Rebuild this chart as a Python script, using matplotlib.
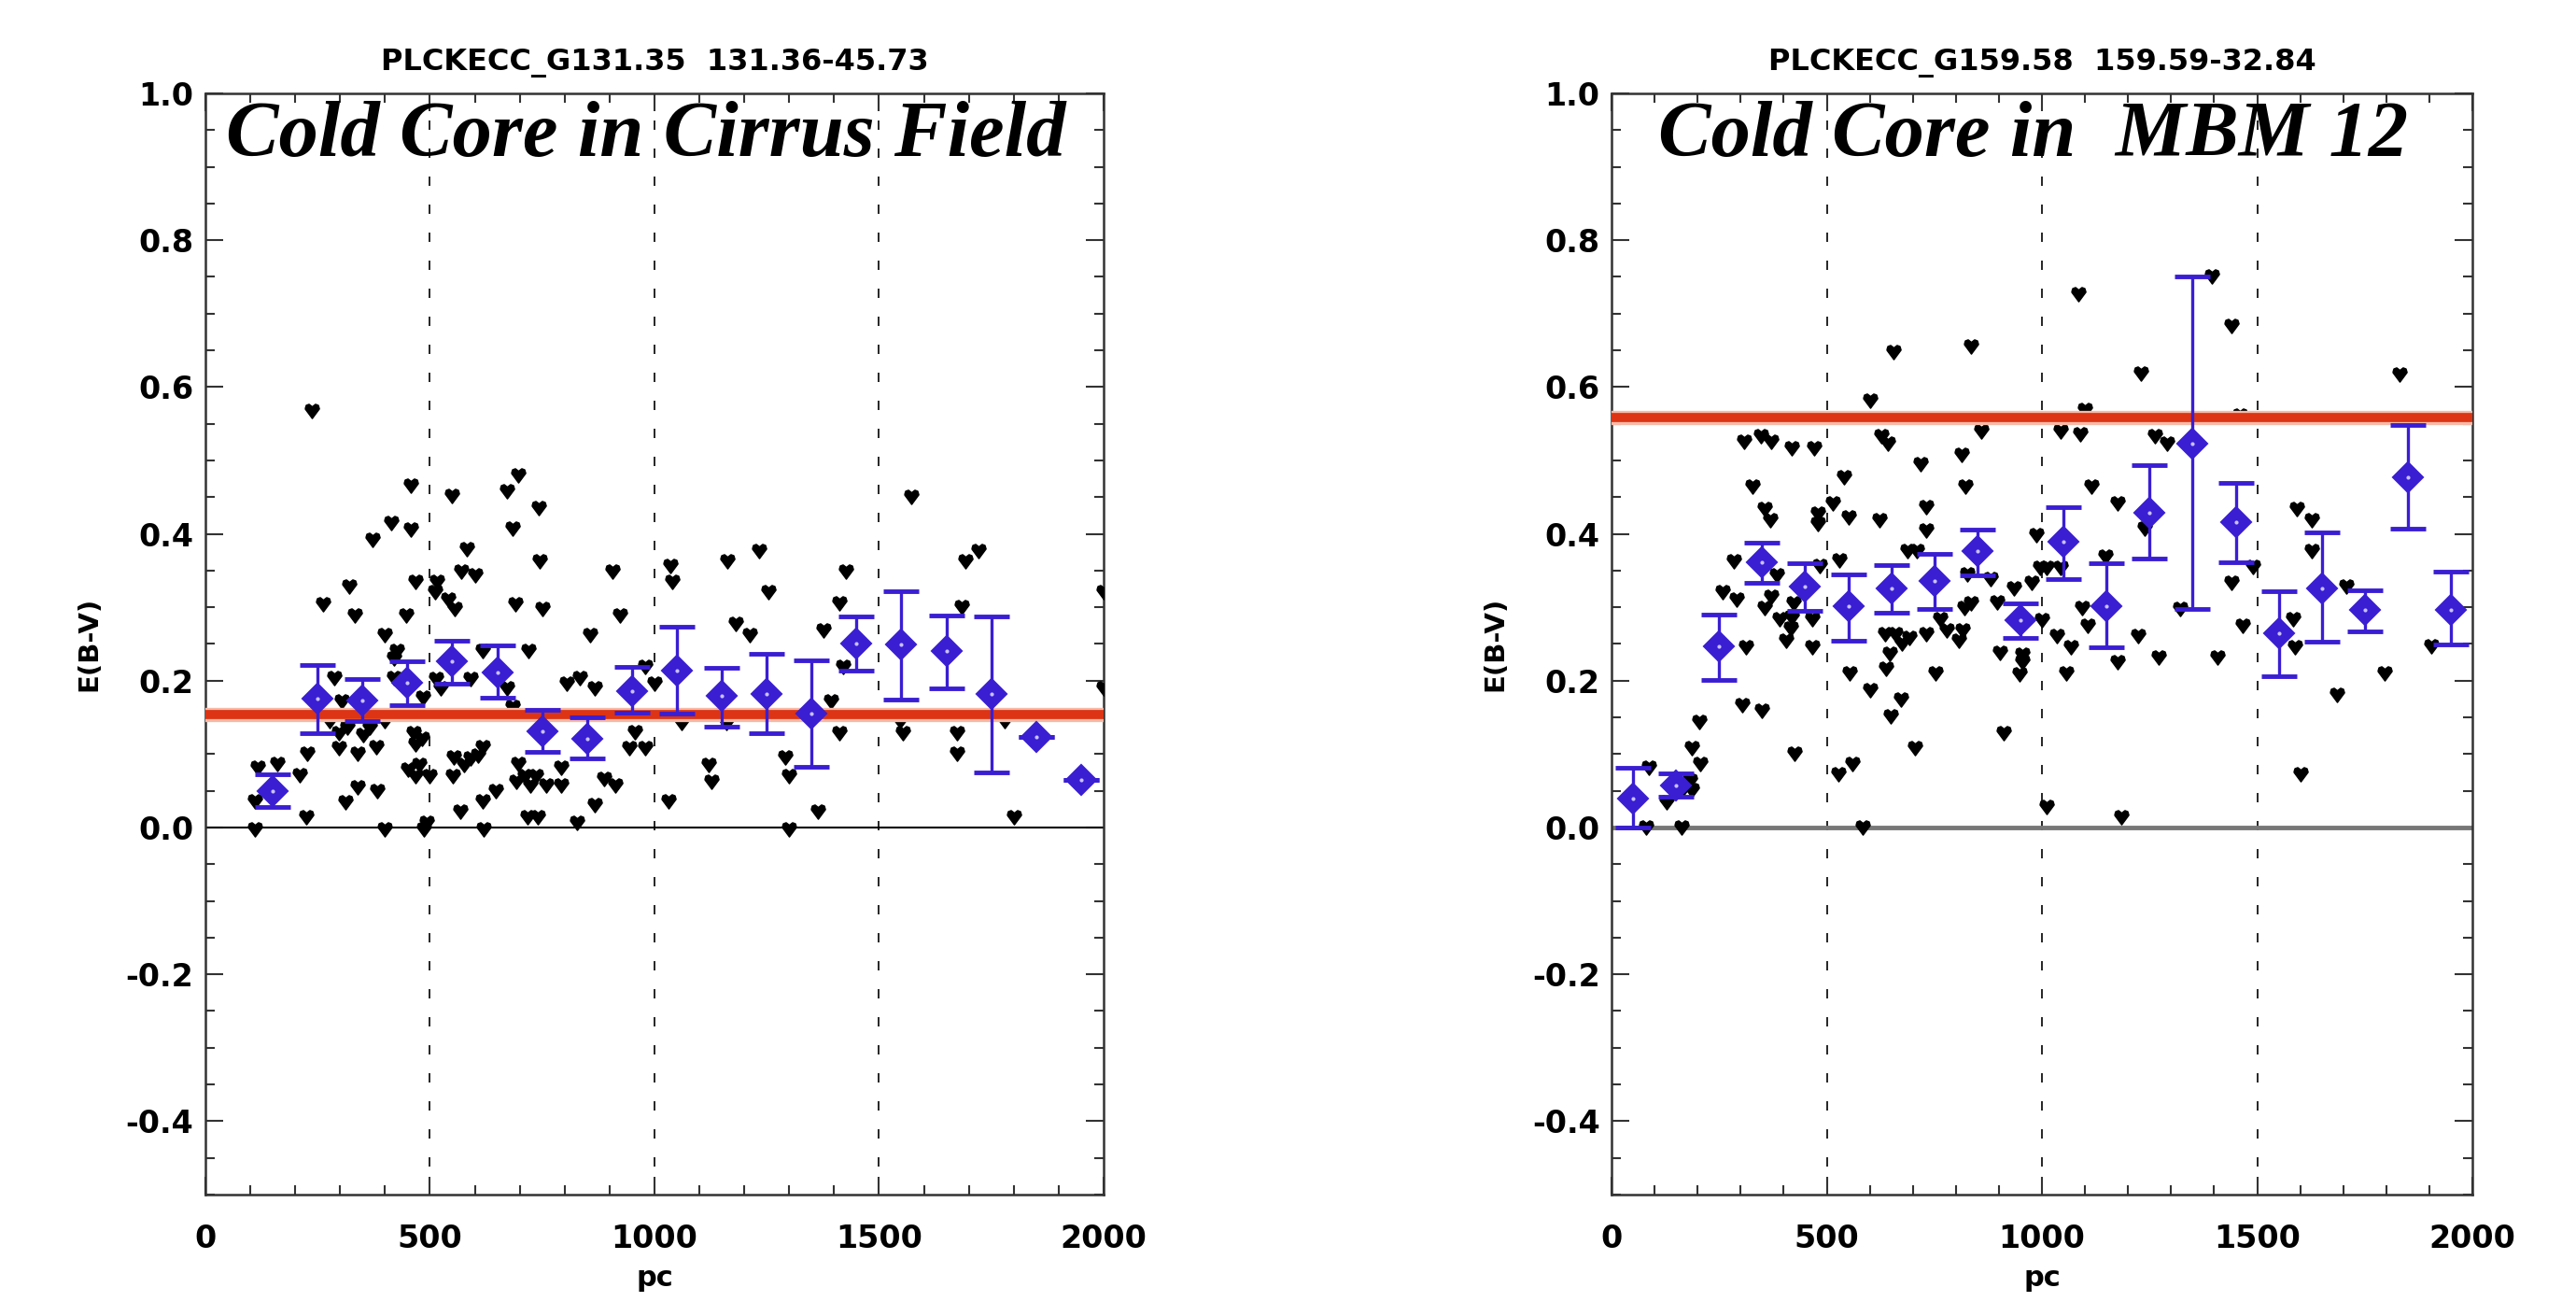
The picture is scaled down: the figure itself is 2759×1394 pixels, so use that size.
import matplotlib
matplotlib.use("Agg")
import matplotlib.pyplot as plt
import numpy as np

# ---- left panel: PLCKECC_G131.35 ----
left_title = "PLCKECC_G131.35  131.36-45.73"
left_note = "Cold Core in Cirrus Field"
left_ref = 0.154

left_star_pc = [697, 457, 549, 671, 743, 1571, 413, 457, 684, 373, 583, 1233, 1721, 1693,
                744, 1163, 569, 600, 907, 1036, 1427, 320, 467, 516, 1040, 511, 540, 1253,
                2000, 263, 556, 691, 751, 1411, 1684, 333, 447, 923, 1180, 400, 857, 1213,
                1377, 427, 617, 720, 420, 1420, 980, 287, 420, 513, 591, 804, 833, 867,
                1000, 2000, 524, 671, 304, 484, 1393, 684, 277, 400, 317, 367, 1060, 1160,
                1547, 1780, 1411, 1553, 1673, 351, 297, 464, 957, 483, 467, 297, 380, 617,
                943, 980, 227, 340, 1673, 1291, 553, 591, 607, 697, 1120, 117, 160, 211,
                451, 477, 577, 793, 467, 500, 551, 711, 737, 1300, 1127, 887, 693, 724,
                760, 793, 913, 340, 383, 647, 111, 313, 617, 867, 1031, 1364, 567, 224,
                717, 740, 1800, 827, 493, 111, 400, 487, 620, 1300, 237]
left_star_ebv = [0.480, 0.465, 0.451, 0.458, 0.435, 0.450, 0.415, 0.406, 0.407, 0.392, 0.379,
                 0.377, 0.377, 0.362, 0.363, 0.363, 0.348, 0.343, 0.348, 0.356, 0.348, 0.328,
                 0.335, 0.334, 0.334, 0.321, 0.311, 0.320, 0.321, 0.304, 0.298, 0.304, 0.298,
                 0.305, 0.300, 0.289, 0.289, 0.289, 0.277, 0.262, 0.262, 0.262, 0.268, 0.240,
                 0.240, 0.240, 0.230, 0.219, 0.219, 0.204, 0.204, 0.202, 0.202, 0.196, 0.203,
                 0.189, 0.196, 0.189, 0.189, 0.189, 0.172, 0.177, 0.172, 0.164, 0.145, 0.145,
                 0.136, 0.136, 0.143, 0.143, 0.145, 0.145, 0.128, 0.129, 0.129, 0.126, 0.128,
                 0.128, 0.130, 0.121, 0.113, 0.108, 0.109, 0.109, 0.108, 0.108, 0.100, 0.100,
                 0.100, 0.095, 0.095, 0.094, 0.098, 0.087, 0.085, 0.081, 0.087, 0.071, 0.079,
                 0.085, 0.085, 0.081, 0.070, 0.070, 0.070, 0.070, 0.070, 0.070, 0.062, 0.066,
                 0.062, 0.057, 0.057, 0.057, 0.057, 0.055, 0.049, 0.049, 0.036, 0.034, 0.036,
                 0.030, 0.035, 0.021, 0.021, 0.014, 0.014, 0.014, 0.014, 0.006, 0.006, -0.002,
                 -0.002, -0.002, -0.002, -0.002, 0.568]

left_bin_pc = [150, 250, 350, 450, 550, 650, 750, 850, 950, 1050, 1150, 1250, 1350, 1450,
               1550, 1650, 1750, 1850, 1950]
left_bin_mean = [0.050, 0.175, 0.173, 0.197, 0.226, 0.211, 0.131, 0.121, 0.186, 0.214, 0.179,
                 0.182, 0.155, 0.250, 0.249, 0.240, 0.182, 0.123, 0.065]
left_bin_top = [0.072, 0.221, 0.202, 0.226, 0.255, 0.248, 0.160, 0.150, 0.219, 0.274, 0.217,
                0.236, 0.228, 0.288, 0.322, 0.289, 0.288, 0.123, 0.065]
left_bin_bot = [0.028, 0.128, 0.145, 0.166, 0.196, 0.177, 0.103, 0.094, 0.157, 0.155, 0.137,
                0.128, 0.083, 0.214, 0.174, 0.189, 0.075, 0.123, 0.065]

# ---- right panel: PLCKECC_G159.58 ----
right_title = "PLCKECC_G159.58  159.59-32.84"
right_note = "Cold Core in  MBM 12"
right_ref = 0.559

right_star_pc = [1395, 1085, 1440, 656, 835, 1230, 1830, 600, 1099, 1459, 307, 347, 371, 419,
                 470, 627, 643, 718, 813, 859, 1043, 1088, 1262, 1291,
                 539, 328, 822, 1115, 1176, 731, 515, 1592, 355, 368, 480, 480, 550, 622,
                 1627, 731, 1238, 987, 1627, 688, 710, 283, 530, 1147, 483, 995, 1011, 1043,
                 1491, 384, 827, 880, 1441, 1707, 976, 934, 259, 291, 371, 423, 355, 835,
                 819, 896, 1094, 1320, 390, 419, 466, 763, 1000, 1107, 1467, 1584, 416, 635,
                 660, 691, 731, 779, 816, 1035, 1224, 406, 675, 806, 1067, 312, 467, 1587,
                 1904, 646, 902, 955, 955, 1270, 1408, 1176, 638, 947, 552, 752, 1056, 1795,
                 600, 672, 1686, 304, 349, 648, 203, 910, 187, 704, 424, 206, 560, 86, 526,
                 1600, 187, 128, 1011, 1184, 80, 163, 584, 182, 166]
right_star_ebv = [0.751, 0.727, 0.683, 0.647, 0.655, 0.618, 0.617, 0.582, 0.569, 0.561, 0.525,
                  0.533, 0.525, 0.516, 0.516, 0.533, 0.523, 0.495, 0.508, 0.539, 0.539, 0.536,
                  0.533, 0.523,
                  0.477, 0.464, 0.464, 0.464, 0.442, 0.436, 0.441, 0.434, 0.434, 0.419, 0.428,
                  0.413, 0.422, 0.419, 0.419, 0.405, 0.407, 0.398, 0.377, 0.377, 0.377, 0.362,
                  0.364, 0.369, 0.356, 0.354, 0.354, 0.354, 0.355, 0.343, 0.345, 0.339, 0.333,
                  0.328, 0.333, 0.326, 0.320, 0.311, 0.314, 0.305, 0.299, 0.305, 0.299, 0.306,
                  0.299, 0.298, 0.284, 0.286, 0.284, 0.284, 0.283, 0.275, 0.275, 0.284, 0.271,
                  0.263, 0.263, 0.258, 0.263, 0.269, 0.269, 0.261, 0.261, 0.254, 0.250, 0.254,
                  0.246, 0.246, 0.246, 0.246, 0.247, 0.237, 0.238, 0.235, 0.225, 0.231, 0.231,
                  0.225, 0.216, 0.208, 0.210, 0.210, 0.210, 0.210, 0.187, 0.174, 0.181, 0.167,
                  0.159, 0.151, 0.144, 0.129, 0.108, 0.108, 0.100, 0.087, 0.087, 0.081, 0.072,
                  0.072, 0.051, 0.034, 0.028, 0.014, 0.000, 0.000, 0.000, 0.064, 0.053]

right_bin_pc = [50, 150, 250, 350, 450, 550, 650, 750, 850, 950, 1050, 1150, 1250, 1350, 1450,
                1550, 1650, 1750, 1850, 1950]
right_bin_mean = [0.039, 0.057, 0.247, 0.361, 0.328, 0.302, 0.326, 0.336, 0.376, 0.282, 0.389,
                  0.302, 0.429, 0.523, 0.416, 0.264, 0.326, 0.297, 0.477, 0.297]
right_bin_top = [0.081, 0.074, 0.290, 0.388, 0.360, 0.345, 0.357, 0.373, 0.406, 0.305, 0.436,
                 0.360, 0.494, 0.751, 0.470, 0.322, 0.402, 0.323, 0.548, 0.348]
right_bin_bot = [0.000, 0.042, 0.201, 0.333, 0.295, 0.255, 0.292, 0.298, 0.344, 0.258, 0.339,
                 0.246, 0.367, 0.298, 0.361, 0.206, 0.253, 0.267, 0.407, 0.249]

BLUE = "#3a1ed2"
RED = "#dc3414"
# small heart-like symbol used for the individual stars
HEART = [(-1.0, 0.35), (-0.85, 0.85), (-0.45, 1.0), (0.0, 0.65), (0.45, 1.0),
         (0.85, 0.85), (1.0, 0.35), (0.0, -1.0), (-1.0, 0.35)]

plt.rcParams["axes.unicode_minus"] = False


def draw_panel(ax, title, note, ref, star_pc, star_ebv, bin_pc, bin_mean, bin_top, bin_bot,
               zero_color, zero_lw):
	ax.set_xlim(0, 2000)
	ax.set_ylim(-0.5, 1.0)

	for xv in (500, 1000, 1500):
		ax.axvline(xv, color="black", lw=1.2, ls=(0, (6, 12)), zorder=1)
	ax.axhline(0.0, color=zero_color, lw=zero_lw, zorder=2)

	ax.plot(star_pc, star_ebv, ls="none", marker=HEART, ms=11, color="black", zorder=3)

	# reference extinction level
	ax.axhline(ref, color="#f7b9a8", lw=11, zorder=4)
	ax.axhline(ref, color=RED, lw=7, zorder=4)

	mean = np.array(bin_mean)
	yerr = [mean - np.array(bin_bot), np.array(bin_top) - mean]
	ax.errorbar(bin_pc, mean, yerr=yerr, fmt="none", ecolor=BLUE, elinewidth=2.4,
		capsize=14, capthick=3.5, zorder=5)
	ax.plot(bin_pc, mean, ls="none", marker="D", ms=16, mfc=BLUE, mec=BLUE, mew=1.5, zorder=6)
	ax.plot(bin_pc, mean, ls="none", marker="o", ms=3, mfc="#c8c0ff", mec="none", zorder=7)

	ax.text(np.mean(ax.get_xlim()) - 20, 0.915, note, ha="center", va="baseline",
		family="Liberation Serif", fontsize=61, fontweight="bold", fontstyle="italic", zorder=8)

	ax.set_title(title, fontsize=23, fontweight="bold", pad=18)
	ax.set_xlabel("pc", fontsize=22, fontweight="bold", labelpad=8)
	ax.set_ylabel("E(B-V)", fontsize=21, fontweight="bold", labelpad=18)

	ax.set_xticks([0, 500, 1000, 1500, 2000])
	ax.set_xticks(np.arange(0, 2001, 100), minor=True)
	ax.set_yticks([-0.4, -0.2, 0.0, 0.2, 0.4, 0.6, 0.8, 1.0])
	ax.set_yticks(np.arange(-0.5, 1.001, 0.05), minor=True)
	ax.yaxis.set_major_formatter(plt.FormatStrFormatter("%.1f"))
	ax.tick_params(which="both", direction="in", top=True, right=True, width=1.5, color="#333333")
	ax.tick_params(which="major", length=14, labelsize=24)
	ax.tick_params(axis="x", which="major", pad=22)
	ax.tick_params(axis="y", which="major", pad=9)
	ax.tick_params(which="minor", length=7)
	for lab in ax.get_xticklabels() + ax.get_yticklabels():
		lab.set_fontweight("bold")
	for sp in ax.spines.values():
		sp.set_linewidth(1.8)
		sp.set_color("#333333")


fig = plt.figure(figsize=(27.59, 13.94), dpi=100)
ax_l = fig.add_axes([0.0797, 0.0825, 0.3487, 0.8458])
ax_r = fig.add_axes([0.6256, 0.0825, 0.3342, 0.8458])

draw_panel(ax_l, left_title, left_note, left_ref, left_star_pc, left_star_ebv,
	left_bin_pc, left_bin_mean, left_bin_top, left_bin_bot, "black", 1.5)
draw_panel(ax_r, right_title, right_note, right_ref, right_star_pc, right_star_ebv,
	right_bin_pc, right_bin_mean, right_bin_top, right_bin_bot, "#777777", 3.5)

fig.savefig("out.png", dpi=100)
